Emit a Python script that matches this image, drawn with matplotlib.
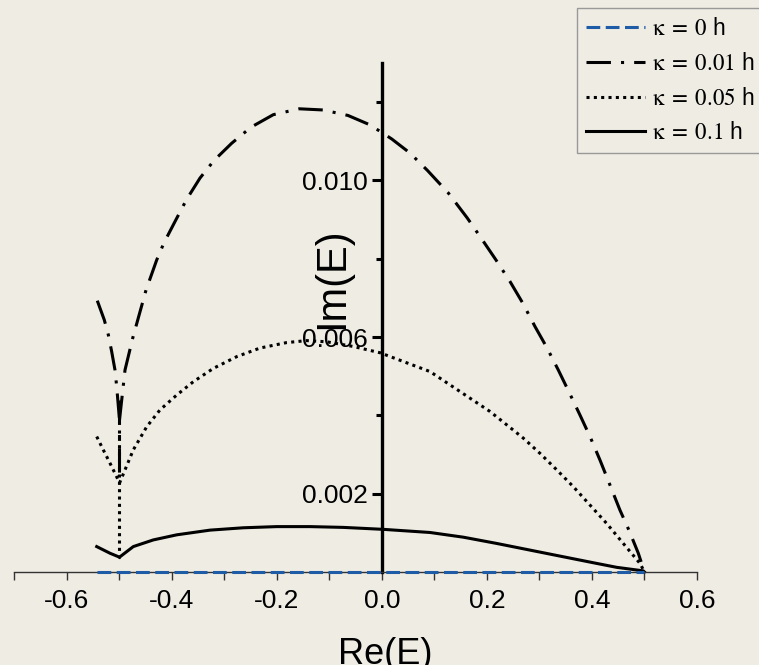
import numpy as np
import matplotlib.pyplot as plt
from matplotlib.ticker import FixedLocator, FixedFormatter

plt.rcParams['font.family'] = ['Liberation Sans', 'DejaVu Sans']
plt.rcParams['mathtext.fontset'] = 'stix'
plt.rcParams['axes.unicode_minus'] = False

# kappa = 0 h
k0_re = [-0.543, 0.5]
k0_im = [0.0, 0.0]

# kappa = 0.01 h
k1_left_re = [-0.5423, -0.529, -0.5213, -0.5149, -0.5086, -0.5053, -0.5]
k1_left_im = [0.00693, 0.00644, 0.00606, 0.00563, 0.00516, 0.00473, 0.00388]
k1_vert_re = [-0.5, -0.5]
k1_vert_im = [0.0044, 0.0024]
k1_re = [-0.5, -0.4895, -0.4749, -0.4495, -0.4291, -0.4152, -0.3943, -0.372, -0.3467,
         -0.32, -0.2863, -0.2495, -0.207, -0.1575, -0.1124, -0.0648, -0.0229, 0.0185,
         0.0533, 0.087, 0.1263, 0.1625, 0.1867, 0.2171, 0.2438, 0.268, 0.2914, 0.3137,
         0.3358, 0.3568, 0.3771, 0.3975, 0.4152, 0.4343, 0.4533, 0.471, 0.4882, 0.5]
k1_im = [0.00388, 0.00516, 0.00597, 0.0072, 0.00797, 0.00841, 0.00895, 0.00952, 0.01006,
         0.01051, 0.01095, 0.01136, 0.01168, 0.01183, 0.0118, 0.01166, 0.01142, 0.01106,
         0.0107, 0.01025, 0.00968, 0.00904, 0.00857, 0.00797, 0.00742, 0.00687, 0.00627,
         0.00574, 0.00516, 0.00458, 0.00401, 0.00342, 0.00286, 0.00222, 0.00158, 0.00105,
         0.00048, 0.0]

# kappa = 0.05 h
k5_left_re = [-0.5434, -0.5309, -0.5181, -0.5053, -0.5]
k5_left_im = [0.00346, 0.00312, 0.00278, 0.00243, 0.00227]
k5_vert_re = [-0.5, -0.5]
k5_vert_im = [0.00363, 0.00049]
k5_re = [-0.5, -0.4737, -0.4482, -0.4229, -0.391, -0.3594, -0.3213, -0.2768, -0.2324,
         -0.1815, -0.1434, -0.1053, -0.0547, -0.0038, 0.0914, 0.1295, 0.1676, 0.2057,
         0.2375, 0.2691, 0.301, 0.3328, 0.3644, 0.3962, 0.428, 0.4596, 0.4914, 0.5]
k5_im = [0.00227, 0.00312, 0.00371, 0.00414, 0.00452, 0.00486, 0.0052, 0.0055, 0.00572,
         0.00586, 0.00591, 0.00588, 0.00576, 0.0056, 0.00512, 0.00478, 0.00444, 0.0041,
         0.00376, 0.00342, 0.00303, 0.00261, 0.00218, 0.00171, 0.00124, 0.00073, 0.00022, 0.0]

# kappa = 0.1 h
k10_left_re = [-0.5434, -0.5181, -0.5]
k10_left_im = [0.00065, 0.00048, 0.00038]
k10_re = [-0.5, -0.4737, -0.4356, -0.391, -0.3276, -0.2642, -0.2006, -0.1371, -0.0737,
          0.0025, 0.0914, 0.1549, 0.2185, 0.2819, 0.3453, 0.409, 0.447, 0.4977, 0.5]
k10_im = [0.00038, 0.00065, 0.00082, 0.00095, 0.00107, 0.00113, 0.00116, 0.00116, 0.00114,
          0.00109, 0.00101, 0.00089, 0.00073, 0.00056, 0.00039, 0.00022, 0.00012, 0.00003, 0.0]

labels = [r'$\mathrm{\kappa\;=\;0}$ h', r'$\mathrm{\kappa\;=\;0.01}$ h',
          r'$\mathrm{\kappa\;=\;0.05}$ h', r'$\mathrm{\kappa\;=\;0.1}$ h']

x_major = [-0.6, -0.4, -0.2, 0.0, 0.2, 0.4, 0.6]
x_minor = [-0.7, -0.5, -0.3, -0.1, 0.1, 0.3, 0.5]
x_ticklabels = ['-0.6', '-0.4', '-0.2', '0.0', '0.2', '0.4', '0.6']
y_major = [0.002, 0.006, 0.010]
y_minor = [0.004, 0.008, 0.012]
y_ticklabels = ['0.002', '0.006', '0.010']

bg = '#eeece3'
fig = plt.figure(figsize=(7.59, 6.65), dpi=100, facecolor=bg)
ax = fig.add_axes([0.0191, 0.1398, 0.8992, 0.7655], facecolor=bg)

lw = 2.2
dashdot = (0, (8, 3.3, 1, 3.3))
dotted = (0, (1, 1.4))

ax.plot(k0_re, k0_im, color='#1f5ca8', lw=lw, ls=(0, (4.5, 1.8)), label=labels[0], clip_on=False, zorder=3)

ax.plot(k1_re, k1_im, color='black', lw=lw, ls=dashdot, label=labels[1], clip_on=False)
ax.plot(k1_left_re, k1_left_im, color='black', lw=lw, ls=dashdot, clip_on=False)
ax.plot(k1_vert_re, k1_vert_im, color='black', lw=lw, ls=dashdot, clip_on=False)

ax.plot(k5_re, k5_im, color='black', lw=lw, ls=dotted, label=labels[2], clip_on=False)
ax.plot(k5_left_re, k5_left_im, color='black', lw=lw, ls=dotted, clip_on=False)
ax.plot(k5_vert_re, k5_vert_im, color='black', lw=lw, ls=dotted, clip_on=False)

ax.plot(k10_re, k10_im, color='black', lw=lw, ls='-', label=labels[3], clip_on=False)
ax.plot(k10_left_re, k10_left_im, color='black', lw=lw, ls='-', clip_on=False)

ax.set_xlim(-0.7, 0.6)
ax.set_ylim(0, 0.013)

# axes through the origin
ax.spines['top'].set_visible(False)
ax.spines['right'].set_visible(False)
ax.spines['left'].set_position(('data', 0))
ax.spines['left'].set_linewidth(2.4)
ax.spines['bottom'].set_linewidth(1.0)
ax.spines['bottom'].set_color('#333333')

ax.xaxis.set_major_locator(FixedLocator(x_major))
ax.xaxis.set_major_formatter(FixedFormatter(x_ticklabels))
ax.xaxis.set_minor_locator(FixedLocator(x_minor))
ax.yaxis.set_major_locator(FixedLocator(y_major))
ax.yaxis.set_major_formatter(FixedFormatter(y_ticklabels))
ax.yaxis.set_minor_locator(FixedLocator(y_minor))

ax.tick_params(axis='x', which='both', direction='out', length=6, width=1.0, color='#333333',
               labelsize=19, pad=6)
ax.tick_params(axis='y', which='major', direction='out', length=7, width=2.2, labelsize=19, pad=3)
ax.tick_params(axis='y', which='minor', direction='out', length=4.5, width=2.2)

ax.set_xlabel('Re(E)', fontsize=26)
ax.xaxis.set_label_coords(0.543, -0.128)
ax.set_ylabel('Im(E)', fontsize=30)
ax.yaxis.set_label_coords(0.4945, 0.578)

leg = ax.legend(loc='upper left', bbox_to_anchor=(0.760, 0.988), bbox_transform=fig.transFigure,
                borderaxespad=0, fontsize=16.5, handlelength=2.6, handletextpad=0.3,
                labelspacing=0.52, borderpad=0.38, fancybox=False, framealpha=1,
                facecolor=bg, edgecolor='#999999')
leg.get_frame().set_linewidth(1.0)

fig.savefig('out.png', dpi=100, facecolor=bg)
